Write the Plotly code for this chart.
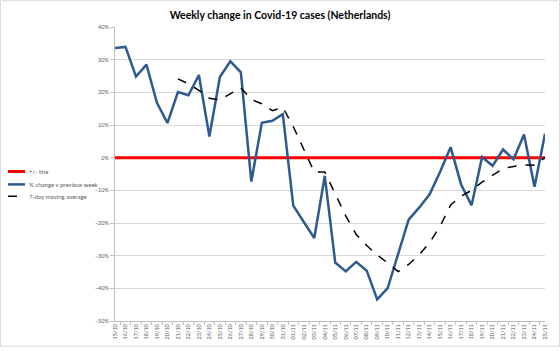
import plotly.graph_objects as go

dates = ["15/10", "16/10", "17/10", "18/10", "19/10", "20/10", "21/10", "22/10", "23/10", "24/10",
         "25/10", "26/10", "27/10", "28/10", "29/10", "30/10", "31/10", "01/11", "02/11", "03/11",
         "04/11", "05/11", "06/11", "07/11", "08/11", "09/11", "10/11", "11/11", "12/11", "13/11",
         "14/11", "15/11", "16/11", "17/11", "18/11", "19/11", "20/11", "21/11", "22/11", "23/11",
         "24/11", "25/11"]

weekly_change = [33.6, 33.9, 24.8, 28.5, 16.8, 10.6, 20.1, 19.1, 25.3, 6.5,
                 24.7, 29.5, 26.1, -7.3, 10.7, 11.3, 13.3, -14.7, -19.7, -24.6,
                 -5.6, -32.1, -34.8, -31.9, -34.6, -43.4, -39.9, -29.6, -19.0, -15.3,
                 -11.2, -4.3, 3.2, -8.2, -14.6, 0.2, -2.5, 2.5, -0.5, 7.1,
                 -8.9, 7.3]

moving_avg = [None, None, None, None, None, None, 24.1, 22.6, 20.6, 18.2,
              17.7, 19.6, 21.4, 17.8, 16.5, 14.4, 15.4, 9.5, 2.3, -4.4,
              -4.4, -11.0, -17.8, -23.5, -26.9, -29.8, -32.2, -34.9, -32.7, -29.7,
              -26.0, -21.0, -14.5, -11.8, -10.0, -7.5, -5.4, -3.3, -2.7, -2.2,
              -2.3, 0.0]

zero_line = [0.0] * len(dates)

series_names = ["+/- line", "% change v previous week", "7-day moving average"]
series_colors = ["#ff0000", "#2f5a8e", "#000000"]
series_widths = [3, 2.5, 1.5]
series_dash = ["solid", "solid", "dash"]

to_frac = lambda vals: [None if v is None else v / 100 for v in vals]

FONT = "Lato"
GRAY = "#595959"

fig = go.Figure()
for name, vals, col, wd, ds in zip(series_names, [zero_line, weekly_change, moving_avg],
                                   series_colors, series_widths, series_dash):
    fig.add_trace(go.Scatter(x=dates, y=to_frac(vals), mode="lines", name=name,
                             line=dict(color=col, width=wd, dash=ds), showlegend=False))

L, R, T, B = 115, 15, 27, 27
W, H = 560, 351
pw, ph = W - L - R, H - T - B

px = lambda x: (x - L) / pw
py = lambda y: (T + ph - y) / ph

shapes = [dict(type="rect", xref="paper", yref="paper",
               x0=px(0.5), x1=px(W - 0.5), y0=py(349.5), y1=py(0.5),
               line=dict(color="#d9d9d9", width=1), fillcolor="rgba(0,0,0,0)", layer="below")]
annotations = []
legend_rows = [173, 186, 198]
for name, col, wd, ds, yrow in zip(series_names, series_colors, series_widths, series_dash, legend_rows):
    shapes.append(dict(type="line", xref="paper", yref="paper",
                       x0=px(8), x1=px(25), y0=py(yrow), y1=py(yrow),
                       line=dict(color=col, width=wd, dash=ds)))
    annotations.append(dict(text=name, xref="paper", yref="paper", x=px(26.5), y=py(yrow),
                            xanchor="left", yanchor="middle", showarrow=False,
                            font=dict(family=FONT, size=6, color=GRAY)))

fig.update_layout(
    width=W, height=H,
    margin=dict(l=L, r=R, t=T, b=B, pad=0),
    paper_bgcolor="white", plot_bgcolor="white",
    font=dict(family=FONT, color=GRAY, size=6),
    title=dict(text="<b>Weekly change in Covid-19 cases (Netherlands)</b>",
               x=0.5, xref="container", xanchor="center",
               y=1 - 15 / H, yref="container", yanchor="middle",
               font=dict(family=FONT, size=10.5, color="#000000")),
    showlegend=False,
    xaxis=dict(type="category", tickangle=-90, showgrid=False,
               showline=True, linecolor="#bfbfbf", linewidth=1,
               ticks="outside", ticklen=3, tickcolor="#bfbfbf", tickson="boundaries",
               tickfont=dict(size=5.5, color=GRAY), zeroline=False),
    yaxis=dict(range=[-0.5, 0.4], dtick=0.1, tickformat=".0%",
               showgrid=True, gridcolor="#d9d9d9", gridwidth=1,
               showline=True, linecolor="#bfbfbf", linewidth=1,
               ticks="outside", ticklen=4, tickcolor="#bfbfbf",
               tickfont=dict(size=5.5, color=GRAY), zeroline=False),
    shapes=shapes,
    annotations=annotations,
)

fig.write_html("out.html")
